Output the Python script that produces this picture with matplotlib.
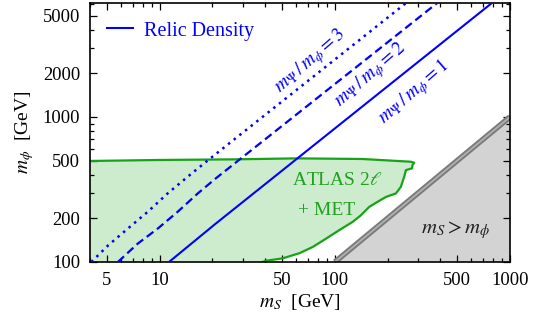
import matplotlib
matplotlib.use("Agg")
import matplotlib.pyplot as plt
from matplotlib.ticker import FixedLocator, NullFormatter, LogLocator

plt.rcParams['font.family'] = 'serif'
plt.rcParams['font.serif'] = ['Liberation Serif', 'DejaVu Serif']
plt.rcParams['mathtext.fontset'] = 'stix'
plt.rcParams['lines.scale_dashes'] = False

# relic density curves (m_S, m_phi)
ratio1_mS = [11.3, 20.9, 788]
ratio1_mphi = [100, 184, 6100]
ratio2_mS = [5.77, 7.5, 9.75, 12.67, 16.5, 20.9, 384]
ratio2_mphi = [100, 134, 170, 222, 297, 377, 6100]
ratio3_mS = [4.07, 5.07, 6.58, 8.55, 11.1, 14.45, 18.4, 255]
ratio3_mphi = [100, 130, 170, 222, 297, 387, 491, 6100]

# ATLAS 2l + MET excluded region boundary
atlas_mS = [4.0, 10.0, 26.8, 60.4, 143.5, 271.8, 283.8, 277.5, 275.5, 254.5,
            248.8, 238.3, 223.2, 195.9, 175.4, 157.2, 140.9, 126.3, 106.1,
            89.2, 74.8, 62.8, 50.4, 40.6, 38.6, 4.0]
atlas_mphi = [497, 505, 510, 518, 513, 491, 483, 466, 442, 430,
              387, 330, 297, 281, 260, 240, 210, 189, 166,
              145, 127, 115, 106, 102, 100, 100]

# kinematically forbidden region m_S > m_phi
forbid_mS = [100, 1000, 1000]
forbid_mphi = [100, 1000, 100]

xticks = [5, 10, 50, 100, 500, 1000]
yticks = [100, 200, 500, 1000, 2000, 5000]

blue = '#0000ff'
green_line = '#17a317'
green_fill = '#cdebcd'

fig = plt.figure(figsize=(5.43, 3.25), dpi=100)
ax = fig.add_axes([90/543, 63/325, 420/543, 259/325])
ax.set_xscale('log')
ax.set_yscale('log')

ax.fill(atlas_mS, atlas_mphi, color=green_fill, lw=0, zorder=1)
ax.plot(atlas_mS[:-2], atlas_mphi[:-2], color=green_line, lw=1.6, zorder=2)
ax.plot(atlas_mS[-3:-1], atlas_mphi[-3:-1], color=green_line, lw=1.6, zorder=2)

ax.fill(forbid_mS, forbid_mphi, color='#d3d3d3', lw=0, zorder=1)
ax.plot(forbid_mS[:2], forbid_mphi[:2], color='#7a7a7a', lw=4.0, zorder=2,
        solid_capstyle='butt')
ax.plot(forbid_mS[:2], forbid_mphi[:2], color='#b0b0b0', lw=1.3, zorder=2,
        solid_capstyle='butt')

ax.plot(ratio1_mS, ratio1_mphi, color=blue, lw=1.5, zorder=3, label='Relic Density')
ax.plot(ratio2_mS, ratio2_mphi, color=blue, lw=1.6, ls=(0, (6, 3.2)), zorder=3)
ax.plot(ratio3_mS, ratio3_mphi, color=blue, lw=1.8, ls=(0, (1.8, 3.4)), zorder=3)

ax.text(72.6, 2400, r'$m_\Psi\,/\,m_\phi = 3$', color=blue, fontsize=14,
        rotation=41, ha='center', va='center', rotation_mode='anchor')
ax.text(162, 1930, r'$m_\Psi\,/\,m_\phi = 2$', color=blue, fontsize=14,
        rotation=41, ha='center', va='center', rotation_mode='anchor')
ax.text(282, 1480, r'$m_\Psi\,/\,m_\phi = 1$', color=blue, fontsize=14,
        rotation=41, ha='center', va='center', rotation_mode='anchor')

ax.text(103, 367, r'ATLAS 2$\ell$', color='#22a022', fontsize=14,
        ha='center', va='center')
ax.text(89.5, 227, '+ MET', color='#22a022', fontsize=14,
        ha='center', va='center')
ax.text(492, 165, r'$m_S > m_\phi$', color='#202020', fontsize=15,
        ha='center', va='center')

leg = ax.legend(loc='center left', frameon=False, fontsize=14.5,
                handlelength=1.3, borderaxespad=0.0, handletextpad=0.55,
                bbox_to_anchor=(0.021, 0.892))
for t in leg.get_texts():
    t.set_color(blue)

ax.set_xlim(4, 1000)
ax.set_ylim(100, 6100)

ax.xaxis.set_major_locator(FixedLocator(xticks))
ax.xaxis.set_major_formatter(plt.FixedFormatter([str(v) for v in xticks]))
ax.xaxis.set_minor_locator(LogLocator(base=10, subs=(2, 3, 4, 6, 7, 8, 9)))
ax.xaxis.set_minor_formatter(NullFormatter())
ax.yaxis.set_major_locator(FixedLocator(yticks))
ax.yaxis.set_major_formatter(plt.FixedFormatter([str(v) for v in yticks]))
ax.yaxis.set_minor_locator(LogLocator(base=10, subs=(3, 4, 6, 7, 8, 9)))
ax.yaxis.set_minor_formatter(NullFormatter())

ax.tick_params(which='both', direction='in', top=True, right=True,
               labelsize=13.3, width=0.9)
ax.tick_params(which='major', length=5)
ax.tick_params(which='minor', length=3)
ax.tick_params(axis='x', which='major', pad=7)
ax.tick_params(axis='y', which='major', pad=7)

for s in ax.spines.values():
    s.set_linewidth(1.2)

ax.set_xlabel(r'$m_S$  [GeV]', fontsize=14, labelpad=2)
ax.set_ylabel(r'$m_\phi$  [GeV]', fontsize=14, labelpad=5)

fig.savefig('out.png', dpi=100)
